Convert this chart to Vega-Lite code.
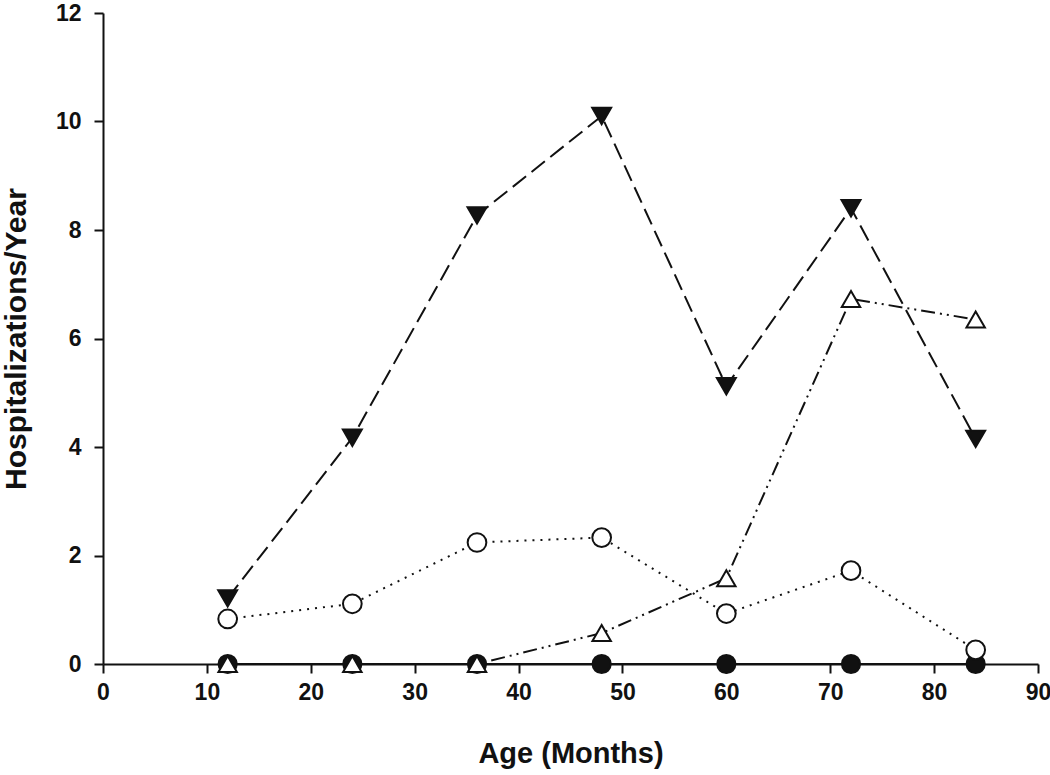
{
  "$schema": "https://vega.github.io/schema/vega-lite/v6.json",
  "autosize": "none",
  "width": 935,
  "height": 651,
  "padding": {"left": 103, "top": 13, "right": 12, "bottom": 111},
  "background": "white",
  "config": {
    "view": {"stroke": null},
    "axis": {
      "grid": false,
      "domainColor": "#111",
      "domainWidth": 2,
      "tickColor": "#111",
      "tickWidth": 2,
      "tickSize": 9,
      "labelFont": "Liberation Sans",
      "labelFontWeight": "bold",
      "labelFontSize": 23,
      "labelColor": "#111",
      "titleFont": "Liberation Sans",
      "titleFontWeight": "bold",
      "titleColor": "#111"
    }
  },
  "data": {
    "values": [
      {"age": 12, "value": 0, "series": "D"},
      {"age": 24, "value": 0, "series": "D"},
      {"age": 36, "value": 0, "series": "D"},
      {"age": 48, "value": 0, "series": "D"},
      {"age": 60, "value": 0, "series": "D"},
      {"age": 72, "value": 0, "series": "D"},
      {"age": 84, "value": 0, "series": "D"},
      {"age": 12, "value": 1.21, "series": "A"},
      {"age": 24, "value": 4.17, "series": "A"},
      {"age": 36, "value": 8.27, "series": "A"},
      {"age": 48, "value": 10.1, "series": "A"},
      {"age": 60, "value": 5.12, "series": "A"},
      {"age": 72, "value": 8.4, "series": "A"},
      {"age": 84, "value": 4.15, "series": "A"},
      {"age": 12, "value": 0.83, "series": "B"},
      {"age": 24, "value": 1.11, "series": "B"},
      {"age": 36, "value": 2.24, "series": "B"},
      {"age": 48, "value": 2.33, "series": "B"},
      {"age": 60, "value": 0.93, "series": "B"},
      {"age": 72, "value": 1.72, "series": "B"},
      {"age": 84, "value": 0.26, "series": "B"},
      {"age": 12, "value": 0, "series": "C"},
      {"age": 24, "value": 0, "series": "C"},
      {"age": 36, "value": 0, "series": "C"},
      {"age": 48, "value": 0.57, "series": "C"},
      {"age": 60, "value": 1.58, "series": "C"},
      {"age": 72, "value": 6.73, "series": "C"},
      {"age": 84, "value": 6.35, "series": "C"}
    ]
  },
  "encoding": {
    "x": {
      "field": "age",
      "type": "quantitative",
      "scale": {"domain": [0, 90], "nice": false, "zero": false},
      "axis": {"values": [0, 10, 20, 30, 40, 50, 60, 70, 80, 90], "title": "Age (Months)", "titleFontSize": 29, "labelPadding": 8, "titlePadding": 35, "labelFlush": false}
    },
    "y": {
      "field": "value",
      "type": "quantitative",
      "scale": {"domain": [0, 12], "nice": false},
      "axis": {"values": [0, 2, 4, 6, 8, 10, 12], "title": "Hospitalizations/Year", "titleFontSize": 30, "labelPadding": 13, "titlePadding": 24, "labelFlush": false}
    }
  },
  "layer": [
    {
      "mark": {"type": "line", "color": "#111", "strokeWidth": 2},
      "encoding": {
        "detail": {"field": "series"},
        "strokeDash": {
          "field": "series",
          "type": "nominal",
          "scale": {"domain": ["A", "B", "C", "D"], "range": [[17, 7], [2, 6], [14, 5, 2, 5, 2, 5], [1, 0]]},
          "legend": null
        }
      }
    },
    {
      "mark": {"type": "point", "filled": true, "stroke": "#111", "strokeWidth": 2, "opacity": 1},
      "encoding": {
        "shape": {
          "field": "series",
          "type": "nominal",
          "scale": {"domain": ["A", "B", "C", "D"], "range": ["triangle-down", "circle", "triangle-up", "circle"]},
          "legend": null
        },
        "fill": {
          "field": "series",
          "type": "nominal",
          "scale": {"domain": ["A", "B", "C", "D"], "range": ["#111", "white", "white", "#111"]},
          "legend": null
        },
        "size": {
          "field": "series",
          "type": "nominal",
          "scale": {"domain": ["A", "B", "C", "D"], "range": [360, 330, 320, 340]},
          "legend": null
        }
      }
    }
  ]
}
